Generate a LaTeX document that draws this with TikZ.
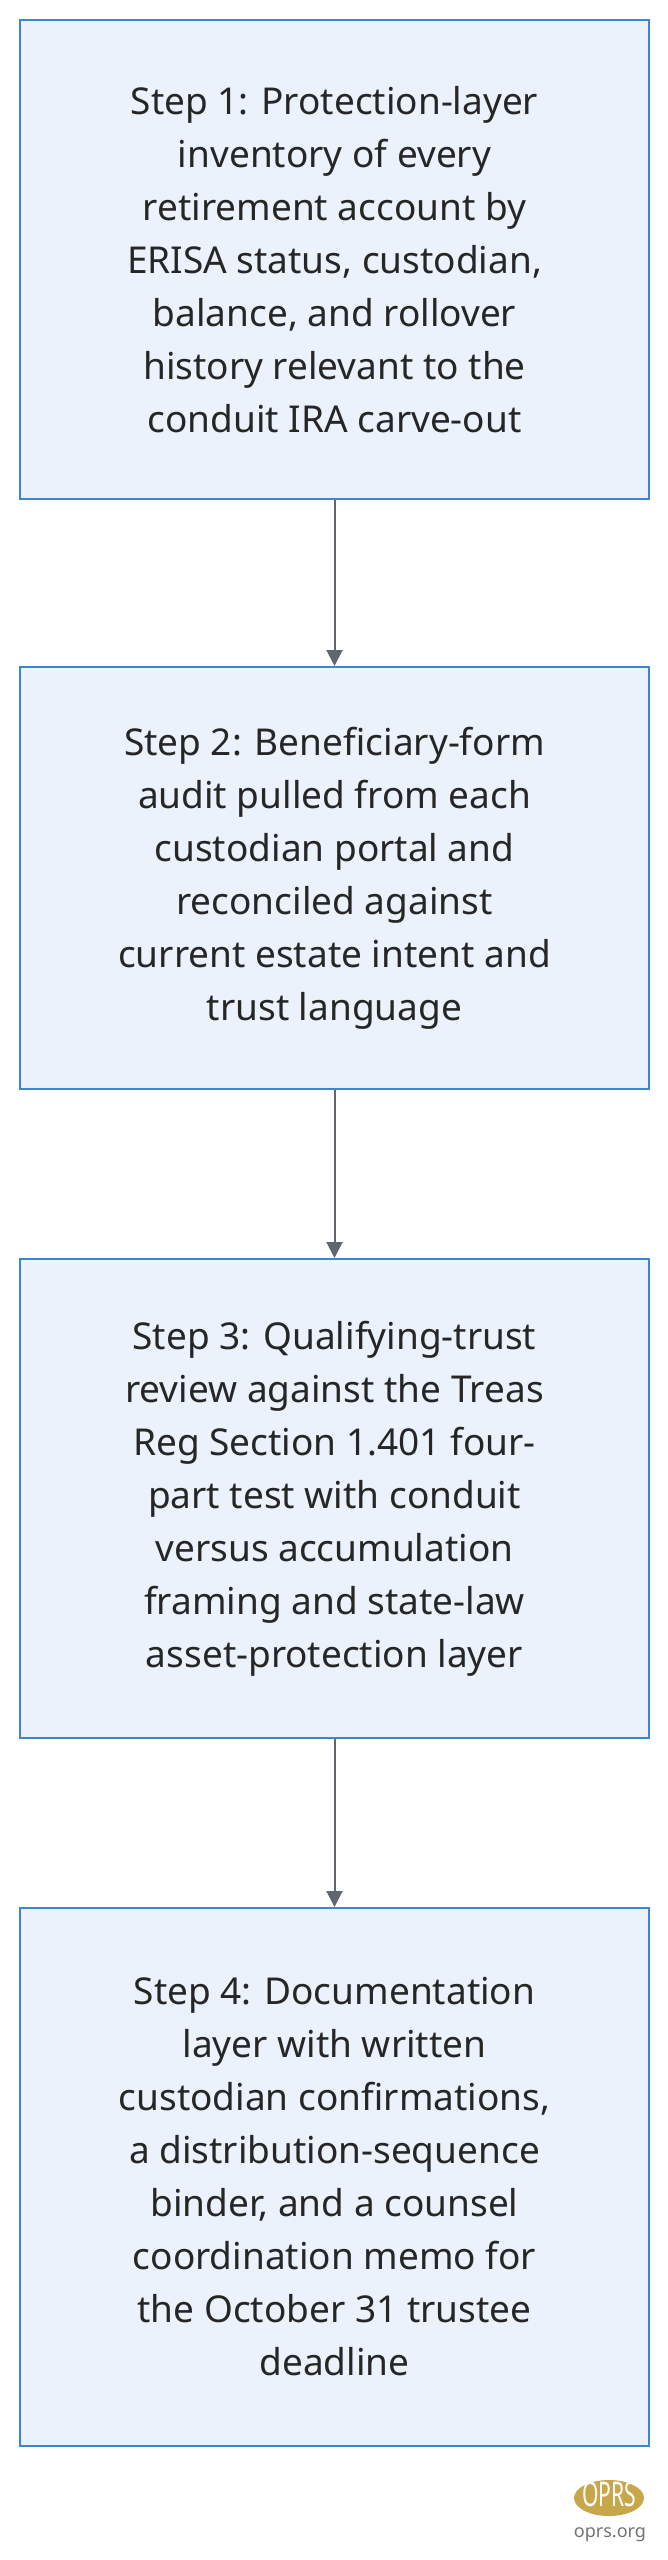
\documentclass[tikz,border=0pt]{standalone}
\usepackage{fontspec}
\setmainfont{Noto Sans}
\usetikzlibrary{arrows.meta,shapes.geometric}
\definecolor{boxfill}{HTML}{EBF2FC}
\definecolor{boxline}{HTML}{3C86D0}
\definecolor{arr}{HTML}{5F6670}
\definecolor{gold}{HTML}{C8A64A}
\begin{document}
\begin{tikzpicture}[x=1pt,y=-1pt,
  stepbox/.style={draw=boxline,line width=2pt,fill=boxfill,minimum width=629pt,align=center,
    font=\fontsize{37}{53}\selectfont,text=black!85},
  conn/.style={draw=arr,line width=2pt,-{Triangle[length=16pt,width=16pt]}}]
\useasboundingbox (0,0) rectangle (667,2560);
\node[stepbox,minimum height=479pt] (s1) at (334.5,259.5) {Step 1: Protection-layer\\inventory of every\\retirement account by\\ERISA status, custodian,\\balance, and rollover\\history relevant to the\\conduit IRA carve-out};
\node[stepbox,minimum height=422pt] (s2) at (334.5,878) {Step 2: Beneficiary-form\\audit pulled from each\\custodian portal and\\reconciled against\\current estate intent and\\trust language};
\node[stepbox,minimum height=479pt] (s3) at (334.5,1498.5) {Step 3: Qualifying-trust\\review against the Treas\\Reg Section 1.401 four-\\part test with conduit\\versus accumulation\\framing and state-law\\asset-protection layer};
\node[stepbox,minimum height=538pt] (s4) at (334.5,2177) {Step 4: Documentation\\layer with written\\custodian confirmations,\\a distribution-sequence\\binder, and a counsel\\coordination memo for\\the October 31 trustee\\deadline};
\draw[conn] (s1) -- (s2);
\draw[conn] (s2) -- (s3);
\draw[conn] (s3) -- (s4);
\node[ellipse,fill=gold,minimum width=70pt,minimum height=36pt,inner sep=0pt] (logo) at (609,2498) {};
\node[font=\bfseries\fontsize{34}{34}\selectfont,text=white,xscale=0.62] (logot) at (609,2494) {OPRS};
\node[font=\bfseries\fontsize{18}{18}\selectfont,text=black!55] (site) at (610,2535) {oprs.org};
\end{tikzpicture}
\end{document}
